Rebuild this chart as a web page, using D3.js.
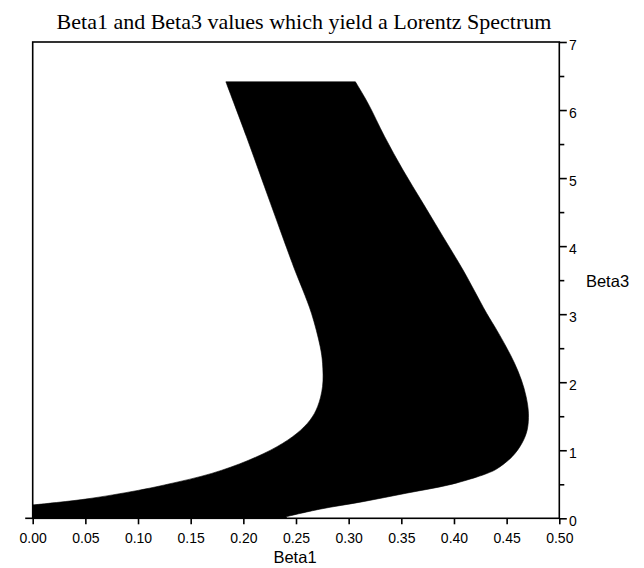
<!DOCTYPE html>
<html>
<head>
<meta charset="utf-8">
<script src="https://cdn.jsdelivr.net/npm/d3@7"></script>
<style>
  html, body { margin: 0; padding: 0; background: #fff; }
  svg { display: block; }
</style>
</head>
<body>
<svg id="chart" width="644" height="568"></svg>
<script>
// ---- data ----
const titleText = "Beta1 and Beta3 values which yield a Lorentz Spectrum";
const xLabel = "Beta1";
const yLabel = "Beta3";
const xTicks = [0, 0.05, 0.10, 0.15, 0.20, 0.25, 0.30, 0.35, 0.40, 0.45, 0.50];
const yMajorTicks = [0, 1, 2, 3, 4, 5, 6, 7];
const yMinorTicks = [0.5, 1.5, 2.5, 3.5, 4.5, 5.5, 6.5];

// left (inner) boundary of the region, top -> bottom
const leftBeta1 = [0.1834, 0.2030, 0.2258, 0.2489, 0.2565, 0.2647, 0.2730, 0.2752, 0.2752, 0.2705, 0.2635, 0.2510, 0.2320, 0.2045, 0.1700, 0.1280, 0.1000, 0.0500, 0.0000];
const leftBeta3 = [6.415, 5.607, 4.629, 3.649, 3.355, 3.013, 2.522, 2.279, 1.935, 1.641, 1.446, 1.250, 1.053, 0.850, 0.660, 0.500, 0.410, 0.282, 0.196];

// right (outer) boundary of the region, top -> bottom
const rightBeta1 = [0.3064, 0.3184, 0.3342, 0.3516, 0.3706, 0.3896, 0.4086, 0.4190, 0.4310, 0.4405, 0.4495, 0.4575, 0.4640, 0.4685, 0.4707, 0.4695, 0.4645, 0.4552, 0.4400, 0.4318, 0.4213, 0.3950, 0.3548, 0.3137, 0.2726, 0.2410];
const rightBeta3 = [6.415, 6.098, 5.608, 5.118, 4.629, 4.139, 3.649, 3.355, 3.013, 2.769, 2.522, 2.279, 2.033, 1.788, 1.544, 1.299, 1.103, 0.906, 0.720, 0.662, 0.605, 0.490, 0.369, 0.245, 0.134, 0.025];

// ---- layout ----
const svg = d3.select("#chart");
const L = 32.7, R = 559.3, T = 42, B = 518.3;
const x = d3.scaleLinear().domain([0, 0.5]).range([L, R]);
const y = d3.scaleLinear().domain([0, 7]).range([B, T]);

// region
const leftPts = leftBeta1.map((v, i) => [v, leftBeta3[i]]);
const rightPts = rightBeta1.map((v, i) => [v, rightBeta3[i]]).reverse();
const line = d3.line().x(d => x(d[0])).y(d => y(d[1])).curve(d3.curveCatmullRom.alpha(0.5));
const pLeft = line(leftPts);
const pRight = line(rightPts).replace(/^M/, "L");
const bottomPts = [[leftBeta1[leftBeta1.length - 1], 0], [rightBeta1[rightBeta1.length - 1], 0]];
const pBottom = "L" + bottomPts.map(d => x(d[0]) + "," + y(d[1])).join("L");
svg.append("path")
  .attr("d", pLeft + pBottom + pRight + "Z")
  .attr("fill", "#000")
  .attr("stroke", "#000")
  .attr("stroke-width", 0.6);

// frame
svg.append("rect")
  .attr("x", L).attr("y", T)
  .attr("width", R - L).attr("height", B - T)
  .attr("fill", "none").attr("stroke", "#000").attr("stroke-width", 1.6);
// small extension of the bottom axis to the left
svg.append("line")
  .attr("x1", L - 7.5).attr("x2", L).attr("y1", B).attr("y2", B)
  .attr("stroke", "#000").attr("stroke-width", 1.6);

// x axis (bottom)
const xAxis = d3.axisBottom(x).tickValues(xTicks).tickFormat(d3.format(".2f")).tickSize(6).tickPadding(3);
const gx = svg.append("g").attr("transform", `translate(0,${B})`).call(xAxis);
gx.select(".domain").remove();
gx.selectAll(".tick line").attr("stroke", "#000").attr("stroke-width", 1.6);
gx.selectAll(".tick text")
  .attr("font-family", "'Liberation Sans', Arial, sans-serif")
  .attr("font-size", 14).attr("fill", "#000").attr("dy", null).attr("y", 25.2);

// y axis (right)
const yAxis = d3.axisRight(y).tickValues(yMajorTicks).tickFormat(d3.format("d")).tickSize(7.5).tickPadding(2);
const gy = svg.append("g").attr("transform", `translate(${R},0)`).call(yAxis);
gy.select(".domain").remove();
gy.selectAll(".tick line").attr("stroke", "#000").attr("stroke-width", 1.6);
gy.selectAll(".tick text")
  .attr("font-family", "'Liberation Sans', Arial, sans-serif")
  .attr("font-size", 14).attr("fill", "#000").attr("x", 9.7).attr("dy", null).attr("y", 7.4);
const yAxisMinor = d3.axisRight(y).tickValues(yMinorTicks).tickFormat("").tickSize(5);
const gym = svg.append("g").attr("transform", `translate(${R},0)`).call(yAxisMinor);
gym.select(".domain").remove();
gym.selectAll(".tick line").attr("stroke", "#000").attr("stroke-width", 1.6);

// title and axis labels
svg.append("text")
  .attr("x", 304).attr("y", 29)
  .attr("text-anchor", "middle")
  .attr("font-family", "'Liberation Serif', 'Times New Roman', serif")
  .attr("font-size", 22).attr("fill", "#000")
  .text(titleText);
svg.append("text")
  .attr("x", 295).attr("y", 563)
  .attr("text-anchor", "middle")
  .attr("font-family", "'Liberation Sans', Arial, sans-serif")
  .attr("font-size", 16.5).attr("fill", "#000")
  .text(xLabel);
svg.append("text")
  .attr("x", 607.5).attr("y", 286.7)
  .attr("text-anchor", "middle")
  .attr("font-family", "'Liberation Sans', Arial, sans-serif")
  .attr("font-size", 16.5).attr("fill", "#000")
  .text(yLabel);
</script>
</body>
</html>
